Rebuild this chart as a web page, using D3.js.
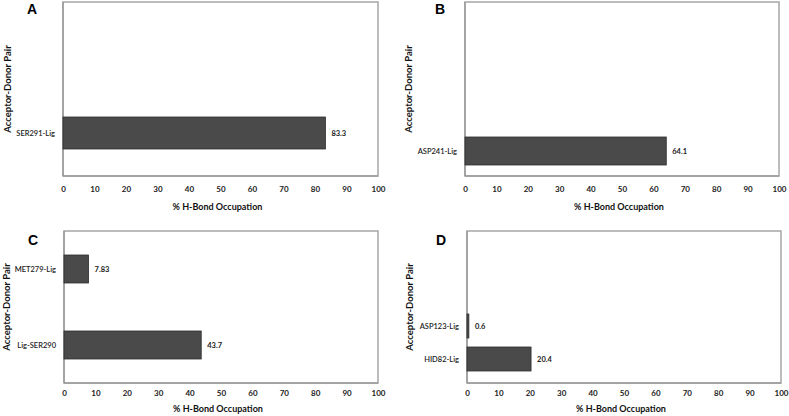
<!DOCTYPE html>
<html><head><meta charset="utf-8">
<script src="https://cdn.jsdelivr.net/npm/d3@7/dist/d3.min.js"></script>
<style>body{margin:0;background:#fff}svg{display:block}</style>
</head><body>
<script>
// ---- data ----
const panelLetters = ["A", "B", "C", "D"];
const catsA = ["SER291-Lig"];
const valsA = [83.3];
const labelsA = ["83.3"];
const catsB = ["ASP241-Lig"];
const valsB = [64.1];
const labelsB = ["64.1"];
const catsC = ["MET279-Lig", "Lig-SER290"];
const valsC = [7.83, 43.7];
const labelsC = ["7.83", "43.7"];
const catsD = ["ASP123-Lig", "HID82-Lig"];
const valsD = [0.6, 20.4];
const labelsD = ["0.6", "20.4"];
const xTicks = [0, 10, 20, 30, 40, 50, 60, 70, 80, 90, 100];
const xTitle = "% H-Bond Occupation";
const yTitle = "Acceptor-Donor Pair";

// ---- layout (positions only) ----
const layouts = [
  {x0: 63, x1: 378, y0: 2, y1: 176, c0: 133, c1: 133, bw: 32, lx: 32, ly: 14, ytx: 8, tickY: 186, titleY: 210},
  {x0: 465, x1: 779, y0: 2, y1: 176, c0: 151, c1: 151, bw: 28, lx: 440, ly: 14, ytx: 409, tickY: 186, titleY: 210},
  {x0: 64, x1: 378, y0: 231, y1: 383, c0: 269, c1: 345, bw: 28, lx: 33, ly: 245, ytx: 7, tickY: 390, titleY: 412},
  {x0: 467, x1: 781, y0: 231, y1: 383, c0: 326, c1: 359, bw: 24, lx: 441, ly: 245, ytx: 410, tickY: 390, titleY: 412}
];
const datasets = [
  {cats: catsA, vals: valsA, labels: labelsA},
  {cats: catsB, vals: valsB, labels: labelsB},
  {cats: catsC, vals: valsC, labels: labelsC},
  {cats: catsD, vals: valsD, labels: labelsD}
];

const W = 789, H = 416;
const svg = d3.select("body").append("svg").attr("width", W).attr("height", H);
const FONT = "Lato, 'Open Sans', sans-serif";

datasets.forEach((ds, i) => {
  const L = layouts[i];
  const g = svg.append("g");
  const x = d3.scaleLinear().domain([0, 100]).range([L.x0, L.x1]);
  const y = d3.scalePoint().domain(ds.cats).range([L.c0, L.c1]);

  // frame
  g.append("rect").attr("x", L.x0).attr("y", L.y0)
    .attr("width", L.x1 - L.x0).attr("height", L.y1 - L.y0)
    .attr("fill", "#fff").attr("stroke", "#a6a6a6").attr("stroke-width", 1.5);
  // axis lines
  g.append("line").attr("x1", L.x0).attr("x2", L.x0).attr("y1", L.y0).attr("y2", L.y1)
    .attr("stroke", "#8c8c8c").attr("stroke-width", 1);
  g.append("line").attr("x1", L.x0).attr("x2", L.x1).attr("y1", L.y1).attr("y2", L.y1)
    .attr("stroke", "#8c8c8c").attr("stroke-width", 1);

  // x axis tick labels
  const xAxis = d3.axisBottom(x).tickValues(xTicks).tickSize(0).tickPadding(0).tickFormat(d3.format("d"));
  const ax = g.append("g").attr("transform", `translate(0,${L.tickY})`).call(xAxis);
  ax.select(".domain").remove();
  ax.selectAll("text").attr("font-family", FONT).attr("font-size", 8)
    .attr("font-weight", "bold").attr("fill", "#222").attr("dy", "0.71em");

  // x title
  g.append("text").attr("x", (L.x0 + L.x1) / 2 - 3).attr("y", L.titleY)
    .attr("text-anchor", "middle").attr("font-family", FONT).attr("font-size", 9)
    .attr("font-weight", "bold").attr("fill", "#111").text(xTitle);

  // y title
  g.append("text").attr("transform", `translate(${L.ytx},${(L.y0 + L.y1) / 2}) rotate(-90)`)
    .attr("text-anchor", "middle").attr("dy", "0.35em").attr("font-family", FONT)
    .attr("font-size", 9.5).attr("font-weight", "bold").attr("fill", "#111").text(yTitle);

  // panel letter
  g.append("text").attr("x", L.lx).attr("y", L.ly).attr("text-anchor", "middle")
    .attr("font-family", "'Liberation Sans', Arial, sans-serif").attr("font-size", 14)
    .attr("font-weight", "bold").attr("fill", "#000").text(panelLetters[i]);

  // bars
  g.selectAll("rect.bar").data(ds.vals).enter().append("rect").attr("class", "bar")
    .attr("x", x(0)).attr("y", (d, j) => y(ds.cats[j]) - L.bw / 2)
    .attr("width", d => x(d) - x(0)).attr("height", L.bw)
    .attr("fill", "#4a4a4a").attr("stroke", "#2e2e2e").attr("stroke-width", 0.8);

  // value labels
  g.selectAll("text.val").data(ds.vals).enter().append("text").attr("class", "val")
    .attr("x", d => x(d) + 6).attr("y", (d, j) => y(ds.cats[j]))
    .attr("dy", "0.35em").attr("font-family", FONT).attr("font-size", 7.5)
    .attr("font-weight", "bold").attr("fill", "#222").text((d, j) => ds.labels[j]);

  // category labels
  g.selectAll("text.cat").data(ds.cats).enter().append("text").attr("class", "cat")
    .attr("x", L.x0 - 8).attr("y", d => y(d)).attr("dy", "0.35em")
    .attr("text-anchor", "end").attr("font-family", FONT).attr("font-size", 7.5)
    .attr("font-weight", 600).attr("fill", "#222").text(d => d);
});
</script>
</body></html>
